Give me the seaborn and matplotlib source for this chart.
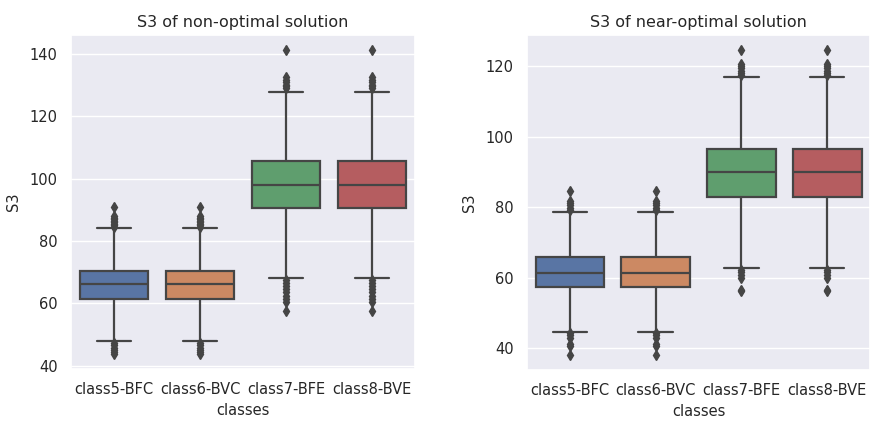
import numpy as np
import pandas as pd
import matplotlib
matplotlib.use("Agg")
import matplotlib.pyplot as plt
import seaborn as sns

# categories
classes = ["class5-BFC", "class6-BVC", "class7-BFE", "class8-BVE"]

# box stats: q1, median, q3, low whisker, high whisker
non_q1 = [61.3, 61.3, 90.5, 90.5]
non_med = [66.3, 66.3, 97.9, 97.9]
non_q3 = [70.5, 70.5, 105.8, 105.8]
non_wlo = [48.0, 48.0, 68.0, 68.0]
non_whi = [84.1, 84.1, 127.7, 127.7]
non_fl_lo = [
    [47.3, 46.5, 45.8, 45.0, 44.5, 43.8],
    [47.3, 46.5, 45.8, 45.0, 44.5, 43.8],
    [67.5, 66.5, 65.5, 64.5, 63.5, 62.5, 61.5, 60.5, 57.7],
    [67.5, 66.5, 65.5, 64.5, 63.5, 62.5, 61.5, 60.5, 57.7],
]
non_fl_hi = [
    [84.5, 85.0, 85.5, 86.0, 86.5, 87.0, 87.5, 88.0, 91.0],
    [84.5, 85.0, 85.5, 86.0, 86.5, 87.0, 87.5, 88.0, 91.0],
    [129.0, 129.6, 130.2, 131.0, 131.8, 132.6, 141.2],
    [129.0, 129.6, 130.2, 131.0, 131.8, 132.6, 141.2],
]

near_q1 = [57.3, 57.3, 83.0, 83.0]
near_med = [61.3, 61.3, 89.9, 89.9]
near_q3 = [65.9, 65.9, 96.6, 96.6]
near_wlo = [44.6, 44.6, 62.7, 62.7]
near_whi = [78.7, 78.7, 116.9, 116.9]
near_fl_lo = [
    [44.2, 43.6, 43.0, 41.2, 40.5, 38.1],
    [44.2, 43.6, 43.0, 41.2, 40.5, 38.1],
    [62.2, 61.6, 60.8, 60.0, 56.5, 56.1],
    [62.2, 61.6, 60.8, 60.0, 56.5, 56.1],
]
near_fl_hi = [
    [79.2, 79.8, 80.5, 81.2, 81.8, 84.6],
    [79.2, 79.8, 80.5, 81.2, 81.8, 84.6],
    [117.6, 118.2, 118.8, 119.4, 120.2, 120.8, 124.6],
    [117.6, 118.2, 118.8, 119.4, 120.2, 120.8, 124.6],
]


def to_frame(q1, med, q3, wlo, whi, fl_lo, fl_hi, k=30):
    # a sample whose quartiles / whiskers / fliers give the read-off stats
    rows = []
    for i, c in enumerate(classes):
        vals = fl_lo[i] + [wlo[i]] + [q1[i]] * k + [med[i]] * k + [q3[i]] * k + [whi[i]] + fl_hi[i]
        rows += [(c, v) for v in vals]
    return pd.DataFrame(rows, columns=["classes", "S3"])


df_non = to_frame(non_q1, non_med, non_q3, non_wlo, non_whi, non_fl_lo, non_fl_hi)
df_near = to_frame(near_q1, near_med, near_q3, near_wlo, near_whi, near_fl_lo, near_fl_hi)

sns.set_theme(style="darkgrid")
plt.rcParams["font.family"] = ["DejaVu Sans"]

fig = plt.figure(figsize=(8.71, 4.21), dpi=100)
ax1 = fig.add_axes([0.0815, 0.1235, 0.395, 0.793])
ax2 = fig.add_axes([0.605, 0.121, 0.394, 0.796])

line_c = ".27"
for ax, df, title in [(ax1, df_non, "S3 of non-optimal solution"),
                      (ax2, df_near, "S3 of near-optimal solution")]:
    sns.boxplot(data=df, x="classes", y="S3", hue="classes", palette="deep",
                saturation=0.75, linecolor=line_c, linewidth=1.6, width=0.8,
                flierprops=dict(marker="d", markerfacecolor=line_c,
                                markeredgecolor=line_c, markersize=5),
                legend=False, ax=ax)
    ax.set_title(title, fontsize=11.5)
    ax.set_xlabel("classes", fontsize=10.5)
    ax.set_ylabel("S3", fontsize=10.5)
    ax.tick_params(labelsize=10.5)
    ax.yaxis.set_label_coords(-0.145, 0.5)

ax1.set_yticks([40, 60, 80, 100, 120, 140])
ax2.set_yticks([40, 60, 80, 100, 120])

fig.savefig("out.png", dpi=100)
